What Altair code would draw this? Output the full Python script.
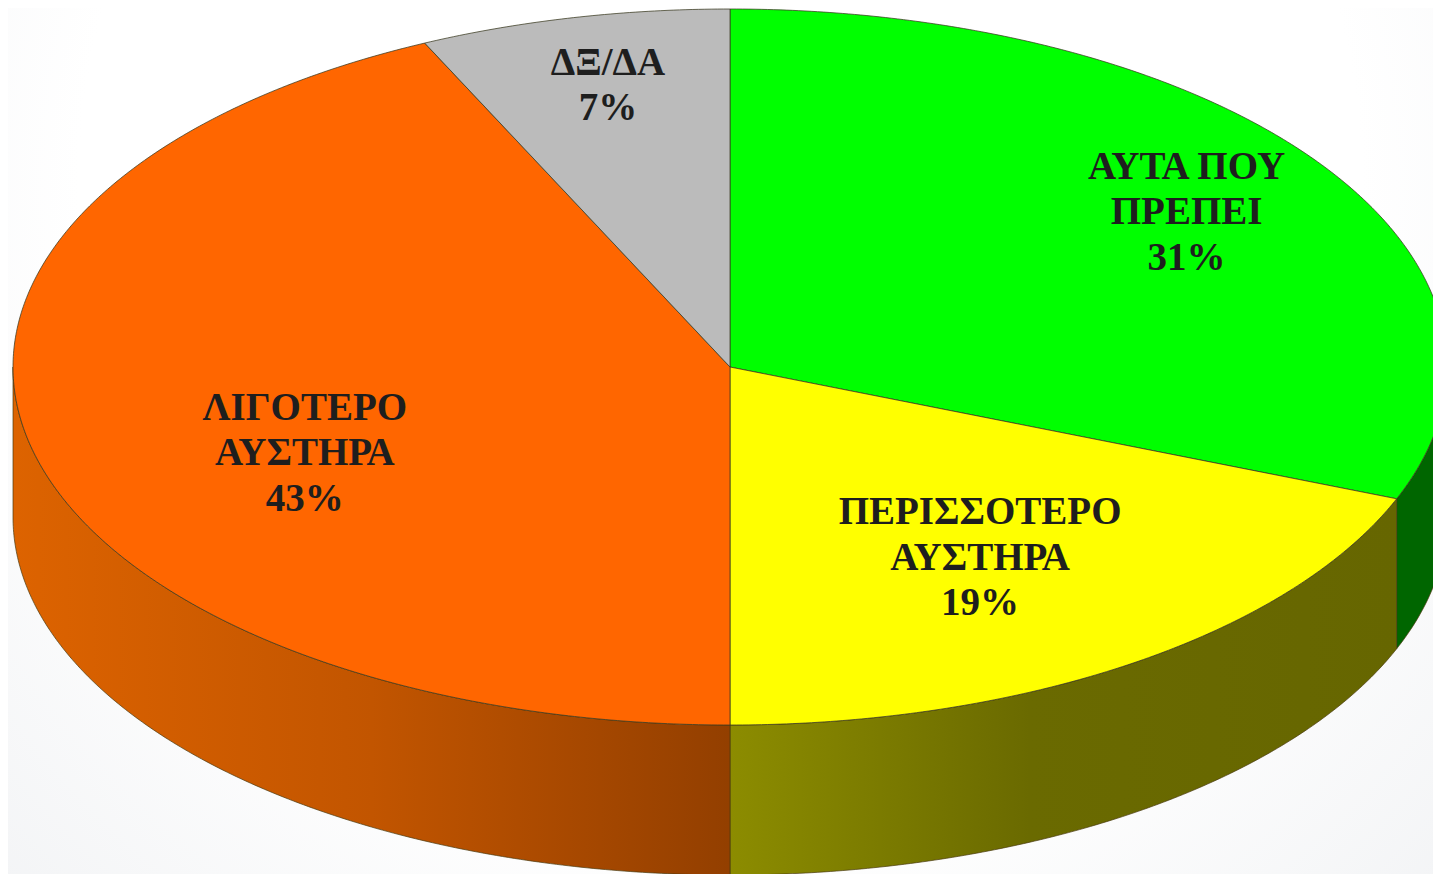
import math
import altair as alt
import pandas as pd

# ---- chart values ----
categories = ["ΑΥΤΑ ΠΟΥ\nΠΡΕΠΕΙ", "ΠΕΡΙΣΣΟΤΕΡΟ\nΑΥΣΤΗΡΑ", "ΛΙΓΟΤΕΡΟ\nΑΥΣΤΗΡΑ", "ΔΞ/ΔΑ"]
shares = [31, 19, 43, 7]

# ---- styling ----
top_colors = ["#00FF00", "#FFFF00", "#FF6600", "#BBBBBB"]
wall_stops = [
    [(0, "#006600"), (1, "#006600")],
    [(0, "#8C8C00"), (0.45, "#6A6A00"), (1, "#666600")],
    [(0, "#DD6300"), (0.5, "#C25500"), (1, "#933F00")],
    [(0, "#777777"), (1, "#777777")],
]
label_radius = [0.77, 0.637, 0.64, 0.805]
label_turn = [0, 1, -9.5, 0.4]
LINE_H = 45.5

W, H = 1425, 866
PX_A, PX_B = 717.0, 358.0          # pixels per unit of the pie, across and down
CX, CY = 722.0, 359.0              # pie centre within the plot area
DROP = 150.0 / PX_B                # depth of the wall in pie units

x_scale = alt.Scale(domain=[-CX / PX_A, (W - CX) / PX_A], nice=False, zero=False)
y_scale = alt.Scale(domain=[-(H - CY) / PX_B, CY / PX_B], nice=False, zero=False)
X = lambda f: alt.X(f, type="quantitative", scale=x_scale, axis=None)
Y = lambda f: alt.Y(f, type="quantitative", scale=y_scale, axis=None)


def pt(deg):
    r = math.radians(deg)
    return math.sin(r), math.cos(r)


starts, ends, acc = [], [], 0.0
for s in shares:
    starts.append(acc * 3.6)
    acc += s
    ends.append(acc * 3.6)

layers = [
    alt.Chart(pd.DataFrame({"a": [0]})).mark_rect(
        clip=True,
        color=alt.Gradient(
            gradient="radial", x1=0.5, y1=0.32, x2=0.5, y2=0.32, r1=0.45, r2=0.9,
            stops=[alt.GradientStop(offset=0, color="#FFFFFF"),
                   alt.GradientStop(offset=1, color="#EAECEF")],
        ),
    ).encode(x=alt.value(0), x2=alt.value(W), y=alt.value(0), y2=alt.value(H))
]

# walls: only the front part of the pie shows its side
for i, (a0, a1) in enumerate(zip(starts, ends)):
    lo, hi = max(a0, 90.0), min(a1, 270.0)
    if lo >= hi:
        continue
    rows = []
    n = max(8, int((hi - lo) * 2))
    for k in range(n + 1):
        sx, sy = pt(lo + (hi - lo) * k / n)
        rows.append({"x": sx, "y": sy, "y2": sy - DROP})
    layers.append(
        alt.Chart(pd.DataFrame(rows)).mark_area(
            clip=True,
            stroke="#4A3A10", strokeWidth=1, strokeOpacity=0.7,
            color=alt.Gradient(
                gradient="linear", x1=0, x2=1, y1=0, y2=0,
                stops=[alt.GradientStop(offset=o, color=c) for o, c in wall_stops[i]],
            ),
        ).encode(x=X("x"), y=Y("y"), y2=alt.Y2("y2"))
    )

# top face: one closed wedge per category
for i, (a0, a1) in enumerate(zip(starts, ends)):
    rows = [{"x": 0.0, "y": 0.0, "o": 0}]
    n = max(8, int((a1 - a0) * 2))
    for k in range(n + 1):
        sx, sy = pt(a0 + (a1 - a0) * k / n)
        rows.append({"x": sx, "y": sy, "o": k + 1})
    layers.append(
        alt.Chart(pd.DataFrame(rows)).mark_line(
            clip=True, interpolate="linear-closed",
            fill=top_colors[i], stroke="#3A3A20", strokeWidth=1, strokeOpacity=0.75,
        ).encode(x=X("x"), y=Y("y"), order=alt.Order("o:Q"))
    )

# labels: the first line sits on the anchor, so lift it by half the block
rows = []
for c, s, a0, a1, r, t in zip(categories, shares, starts, ends, label_radius, label_turn):
    sx, sy = pt((a0 + a1) / 2 + t)
    text = f"{c}\n{s}%"
    lift = (text.count("\n") * LINE_H / 2) / PX_B
    rows.append({"x": sx * r, "y": sy * r + lift, "t": text})
layers.append(
    alt.Chart(pd.DataFrame(rows)).mark_text(
        font="Liberation Serif", fontSize=39, fontWeight="bold", color="#1E1E1E",
        lineBreak="\n", lineHeight=LINE_H, align="center", baseline="middle",
    ).encode(x=X("x"), y=Y("y"), text="t:N")
)

chart = alt.layer(*layers).properties(width=W, height=H, padding=0).configure_view(stroke=None)
chart.save("out.html", embed_options={"renderer": "svg", "actions": False})
